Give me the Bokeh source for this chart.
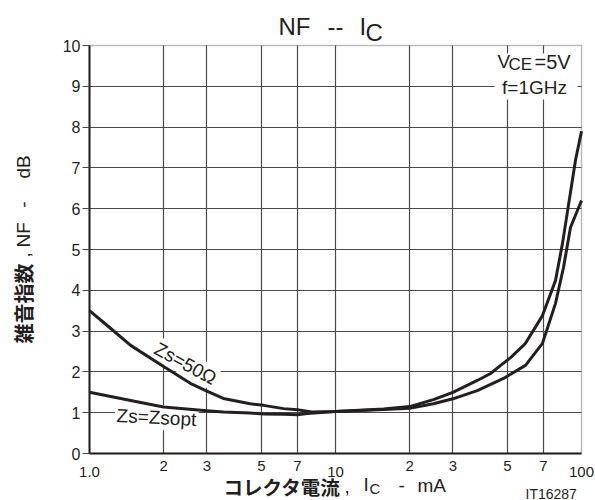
import math
from bokeh.plotting import figure
from bokeh.models import Range1d, FixedTicker, Label, BoxAnnotation, Grid
from bokeh.embed import file_html
from bokeh.resources import INLINE

# ---- data ----
zs50_ic = [1.0, 1.2, 1.47, 2.0, 2.57, 3.0, 3.5, 4.5, 5.1, 6.15, 7.0, 8.0, 10, 15.7, 20, 25, 30, 37.7,
           42.7, 46.9, 51.5, 59.2, 69.4, 78.4, 83.7, 88.6, 94.6, 100]
zs50_nf = [3.5, 3.1, 2.65, 2.13, 1.72, 1.53, 1.35, 1.22, 1.18, 1.1, 1.07, 1.02, 1.03, 1.09, 1.15, 1.32, 1.5, 1.79,
           1.96, 2.16, 2.35, 2.7, 3.38, 4.24, 5.15, 6.1, 7.2, 7.9]
zsopt_ic = [1.0, 1.47, 2.0, 3.0, 3.5, 4.5, 5.1, 6.15, 7.0, 7.67, 10, 15.7, 20, 25, 30, 37.7, 48.2, 59.2,
            69.4, 78.4, 84.5, 90.2, 100]
zsopt_nf = [1.5, 1.3, 1.14, 1.05, 1.02, 0.99, 0.97, 0.96, 0.95, 0.98, 1.03, 1.08, 1.11, 1.22, 1.34, 1.54, 1.84, 2.16,
            2.7, 3.68, 4.56, 5.54, 6.2]
x_ticks = [1, 2, 3, 5, 7, 10, 20, 30, 50, 70, 100]
x_tick_labels = ["1.0", "2", "3", "5", "7", "10", "2", "3", "5", "7", "100"]
x_grid = [2, 3, 5, 7, 10, 20, 30, 50, 70]
y_ticks = list(range(0, 11))
y_grid = list(range(1, 10))
x_lim = (1, 100)
y_lim = (0, 10)

INK = "#231f20"
GRID = "#4a4a4a"
LAT = "Liberation Sans"
CJK = "Noto Sans CJK JP"

W, H = 595, 500
# where the 1..100 x 0..10 box sits on the canvas (pixels)
BL, BR, BT, BB = 89, 581, 45, 453

def fx(px):
    return 10 ** (2 * (px - BL) / (BR - BL))

def fy(py):
    return 10 * (BB - py) / (BB - BT)

p = figure(x_axis_type="log", x_range=Range1d(fx(0), fx(W)), y_range=Range1d(fy(H), fy(0)),
           width=W, height=H, min_border=0,
           output_backend="svg", toolbar_location=None)
p.background_fill_color = "white"
p.border_fill_color = "white"
p.outline_line_color = None

# axes drawn at the box edges
xa = p.xaxis[0]
xa.fixed_location = y_lim[0]
xa.bounds = x_lim
xa.ticker = FixedTicker(ticks=x_ticks)
decades = {1, 10, 100}
xa.major_label_overrides = {t: ("" if t in decades else l) for t, l in zip(x_ticks, x_tick_labels)}
xa.major_tick_out = 0
xa.major_tick_in = 0
xa.minor_tick_out = 0
xa.minor_tick_in = 0
xa.major_label_standoff = 7
xa.major_label_text_font = LAT
xa.major_label_text_font_size = "15px"
xa.major_label_text_color = INK
xa.axis_line_width = 2
xa.axis_line_color = INK

ya = p.yaxis[0]
ya.fixed_location = x_lim[0]
ya.bounds = y_lim
ya.ticker = FixedTicker(ticks=y_ticks)
ya.major_tick_out = 7
ya.major_tick_in = 0
ya.minor_tick_out = 0
ya.minor_tick_in = 0
ya.major_tick_line_color = GRID
ya.major_label_standoff = 2
ya.major_label_text_font = LAT
ya.major_label_text_font_size = "16px"
ya.major_label_text_color = INK
ya.axis_line_width = 2
ya.axis_line_color = INK

# grid, limited to the box
has_cb = "cross_bounds" in Grid.properties()
p.xgrid.ticker = FixedTicker(ticks=x_grid)
p.ygrid.ticker = FixedTicker(ticks=y_grid)
if has_cb:
    p.xgrid[0].cross_bounds = y_lim
    p.ygrid[0].cross_bounds = x_lim
    for g in (p.xgrid[0], p.ygrid[0]):
        g.grid_line_color = GRID
        g.grid_line_width = 1.2
else:
    p.xgrid.visible = False
    p.ygrid.visible = False
    p.segment(x0=x_grid, x1=x_grid, y0=[y_lim[0]] * len(x_grid), y1=[y_lim[1]] * len(x_grid),
              line_color=GRID, line_width=1.2, level="underlay")
    p.segment(x0=[x_lim[0]] * len(y_grid), x1=[x_lim[1]] * len(y_grid), y0=y_grid, y1=y_grid,
              line_color=GRID, line_width=1.2, level="underlay")

# box border (top / right)
p.add_layout(BoxAnnotation(left=x_lim[0], right=x_lim[1], bottom=y_lim[0], top=y_lim[1],
                           fill_alpha=0, line_color=INK, line_width=1.5, level="underlay"))

# curves
p.line(zs50_ic, zs50_nf, line_width=3, line_color=INK, line_join="round", level="overlay")
p.line(zsopt_ic, zsopt_nf, line_width=3, line_color=INK, line_join="round", level="overlay")


def lab(text, px, py, size, font=LAT, bold=False, align="left", baseline="middle",
        angle=0.0, bg=None, pad=0):
    kw = {}
    if bg:
        kw = dict(background_fill_color=bg, padding=pad)
    l = Label(x=fx(px), y=fy(py), text=text, text_font=font, text_font_size=f"{size}px",
              text_font_style="bold" if bold else "normal", text_color=INK,
              text_align=align, text_baseline=baseline, angle=angle, **kw)
    p.add_layout(l)
    return l


# decade tick labels (sit a little lower than the others)
for t, l in zip(x_ticks, x_tick_labels):
    if t in decades:
        px = BL + (BR - BL) * math.log10(t) / 2
        lab(l, px, 471, 15, align="center")

# title  NF -- I_C   (y = visual centre of the capitals)
lab("NF", 278, 26, 24)
lab("--", 327, 26, 24)
lab("I", 359, 26, 24)
lab("C", 365, 32, 24)

# white box behind the conditions
p.add_layout(BoxAnnotation(left=fx(494), right=fx(577), top=fy(53), bottom=fy(99),
                           fill_color="white", fill_alpha=1.0, line_alpha=0))
lab("V", 497, 61, 19)
lab("CE", 508, 64, 17)
lab("=5V", 534, 61, 20)
lab("f=1GHz", 534, 87, 19, align="center")

# curve labels
lab("Zs=50\u03a9", 185, 363, 19, align="center", angle=-0.5, bg="white", pad=1)
lab("Zs=Zsopt", 156, 417, 19, align="center", angle=-0.05, bg="white", pad=2)

# y axis title (rotated)
lab("雑音指数", 23, 343, 20, font=CJK, bold=True, angle=math.pi / 2)
lab(",", 23, 257, 19, angle=math.pi / 2)
lab("NF", 23, 247, 19, angle=math.pi / 2)
lab("-", 23, 204, 19, align="center", angle=math.pi / 2)
lab("dB", 23, 178, 19, angle=math.pi / 2)

# x axis title
lab("コレクタ電流", 223, 486, 19.5, font=CJK, bold=True)
lab(",", 344, 486, 19)
lab("I", 363, 484, 19)
lab("C", 369, 488, 15)
lab("-", 398, 485, 19)
lab("mA", 417, 485, 19)

lab("IT16287", 525, 493, 14)

open("out.html", "w").write(file_html(p, INLINE))
